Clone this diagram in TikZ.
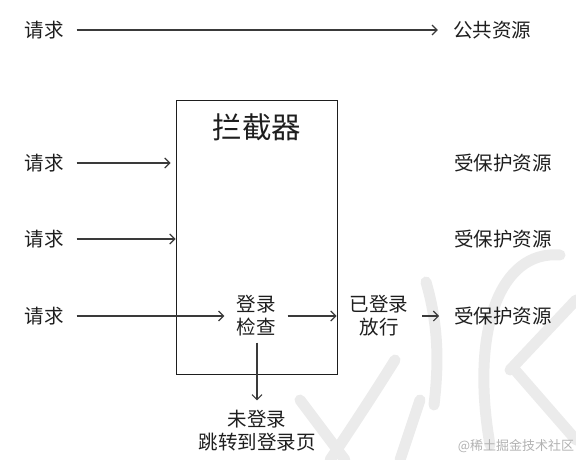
\documentclass[tikz,border=0pt]{standalone}
\usepackage{fontspec}
\setmainfont{Noto Sans CJK SC}
\usetikzlibrary{arrows.meta}
\definecolor{ink}{HTML}{1E1E1E}
\definecolor{wire}{HTML}{3A3A3A}
\definecolor{wm}{HTML}{EBEBEB}
\begin{document}
\begin{tikzpicture}[x=1pt,y=-1pt,
  lbl/.style={inner sep=0pt,text=ink,font=\fontsize{19.5}{23}\selectfont,align=center},
  conn/.style={draw=wire,line width=1.1pt,-{Straight Barb[length=5pt,width=10pt]}},
  wmstroke/.style={draw=wm,line width=11pt,line cap=round}]
\useasboundingbox (0,0) rectangle (576,460);
% watermark strokes (background)
\draw[wmstroke] (426,282) .. controls (440,330) and (438,370) .. (434,405);
\draw[wmstroke] (560,255) .. controls (500,250) and (470,330) .. (490,445);
\draw[wmstroke] (576,300) -- (510,370);
\draw[wmstroke] (515,370) -- (576,440);
\draw[wmstroke] (300,400) -- (345,460);
\draw[wmstroke] (395,360) .. controls (370,400) and (350,430) .. (330,460);
\draw[wmstroke] (420,400) -- (400,460);
% nodes
\node[lbl] (req0) at (44,30) {请求};
\node[lbl] (pub) at (492,30) {公共资源};
\node[draw=ink,line width=1pt,minimum width=161pt,minimum height=273pt,inner sep=0pt] (box) at (256.5,237.5) {};
\node[inner sep=0pt,text=ink,font=\fontsize{29.5}{32}\selectfont] (title) at (257,127) {拦截器};
\node[lbl] (req1) at (44,163) {请求};
\node[lbl] (req2) at (44,239) {请求};
\node[lbl] (req3) at (44,316) {请求};
\node[lbl] (check) at (256,316) {登录\\检查};
\node[lbl] (pass) at (379,316) {已登录\\放行};
\node[lbl] (prot1) at (503,163) {受保护资源};
\node[lbl] (prot2) at (503,239) {受保护资源};
\node[lbl] (prot3) at (503,316) {受保护资源};
\node[lbl] (fail) at (257,431) {未登录\\跳转到登录页};
\node[inner sep=0pt,text=gray!60,font=\fontsize{13}{15}\selectfont] (wmtext) at (516,446) {@稀土掘金技术社区};
% connectors
\draw[conn,shorten <=13pt,shorten >=15pt] (req0) -- (pub);
\draw[conn,shorten <=13pt,shorten >=5pt] (req1) -- (box.west |- req1);
\draw[conn,shorten <=13pt] (req2) -- (box.west |- req2);
\draw[conn,shorten <=13pt,shorten >=12pt] (req3) -- (check);
\draw[conn,shorten <=12pt,shorten >=1pt] (check) -- (box.east |- check);
\draw[conn,shorten <=14pt,shorten >=15pt] (pass) -- (prot3);
\draw[conn,shorten <=6pt,shorten >=10pt] (check.south -| fail) -- (fail.north);
\end{tikzpicture}
\end{document}
